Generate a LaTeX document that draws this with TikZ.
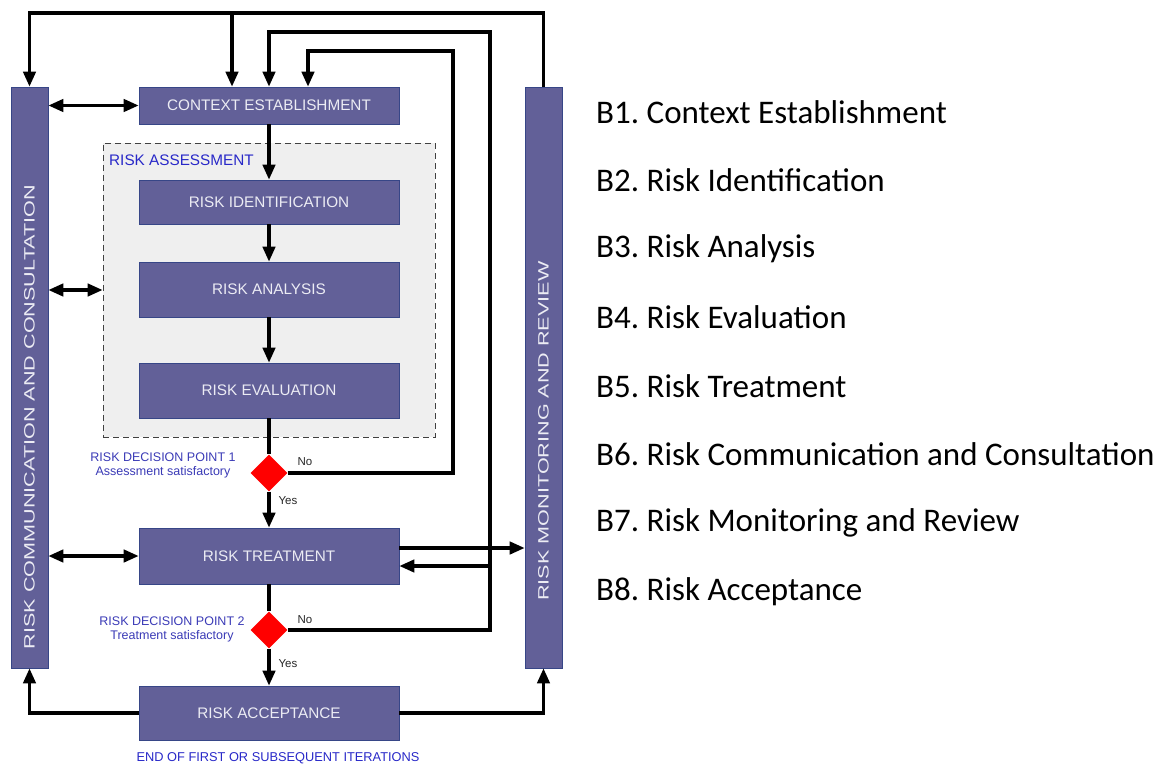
\documentclass[tikz,border=0pt]{standalone}
\usepackage{fontspec}
\setmainfont{Liberation Sans}
\newfontfamily\listfont{Carlito}
\usetikzlibrary{arrows.meta,shapes.geometric}

\definecolor{boxfill}{RGB}{98,96,152}
\definecolor{boxline}{RGB}{55,70,135}
\definecolor{boxtext}{RGB}{236,236,244}
\definecolor{areafill}{RGB}{239,239,239}
\definecolor{labelblue}{RGB}{58,58,182}
\definecolor{titleblue}{RGB}{40,40,200}

\tikzset{
  procbox/.style={draw=boxline, line width=0.8pt, fill=boxfill, text=boxtext,
    minimum width=260pt, inner sep=0pt, font=\fontsize{15.3}{18}\selectfont},
  sidebar/.style={draw=boxline, line width=0.8pt, fill=boxfill, text=boxtext,
    minimum width=37pt, minimum height=581pt, inner sep=0pt},
  bartext/.style={rotate=90, text=boxtext, inner sep=0pt, font=\fontsize{15}{18}\selectfont},
  decision/.style={diamond, fill=red, draw=none, minimum width=37pt,
    minimum height=37pt, inner sep=0pt},
  wire/.style={line width=3.1pt, draw=black},
  tip/.tip={Triangle[length=15pt,width=12.5pt]},
  flow/.style={wire, -tip},
  both/.style={wire, tip-tip},
  bluelabel/.style={text=labelblue, font=\fontsize{12.5}{15}\selectfont, inner sep=0pt, align=center},
  smalltag/.style={text=black!85, font=\fontsize{11.5}{14}\selectfont, inner sep=0pt},
  listitem/.style={anchor=west, inner sep=0pt, font=\listfont\fontsize{33}{38}\selectfont}
}

\begin{document}
\frenchspacing
\begin{tikzpicture}[x=1pt,y=-1pt]
\useasboundingbox (0,0) rectangle (1154,765);

% risk assessment area
\node[draw=black!75, dashed, dash pattern=on 6pt off 4pt, line width=0.9pt, fill=areafill,
  minimum width=332pt, minimum height=294pt, inner sep=0pt] (ra) at (269,290) {};
\node[anchor=west, inner sep=0pt, text=titleblue, font=\fontsize{15.3}{18}\selectfont] (ratitle) at (109,160) {RISK ASSESSMENT};

% side bars
\node[sidebar] (lbar) at (29.5,377.5) {};
\node[sidebar] (rbar) at (543.5,377.5) {};
\node[bartext] (ltext) at (29.5,417)
  {\scalebox{1.44}[1]{RISK COMMUNICATION AND CONSULTATION}};
\node[bartext] (rtext) at (543.5,431)
  {\scalebox{1.44}[1]{RISK MONITORING AND REVIEW}};

% process boxes
\node[procbox, minimum height=37pt] (ctx) at (269,105.5) {CONTEXT ESTABLISHMENT};
\node[procbox, minimum height=44pt] (ident) at (269,202) {RISK IDENTIFICATION};
\node[procbox, minimum height=55pt] (analysis) at (269,289.5) {RISK ANALYSIS};
\node[procbox, minimum height=55pt] (eval) at (269,390.5) {RISK EVALUATION};
\node[procbox, minimum height=56pt] (treat) at (269,556) {RISK TREATMENT};
\node[procbox, minimum height=54pt] (accept) at (269,713) {RISK ACCEPTANCE};

% decision points
\node[decision] (d1) at (269,473) {};
\node[decision] (d2) at (269,630) {};
\node[bluelabel] (d1lab) at (163,465) {RISK DECISION POINT 1\\[-1pt]Assessment satisfactory};
\node[bluelabel] (d2lab) at (172,629.5) {RISK DECISION POINT 2\\[-1pt]Treatment satisfactory};
\node[smalltag] (no1) at (305,462) {No};
\node[smalltag] (yes1) at (288,501) {Yes};
\node[smalltag] (no2) at (305,620) {No};
\node[smalltag] (yes2) at (288,664) {Yes};
\node[text=titleblue, inner sep=0pt, font=\fontsize{12.8}{15}\selectfont] (endlab) at (278,758)
  {END OF FIRST OR SUBSEQUENT ITERATIONS};

% main flow
\draw[flow] (ctx.south) -- (ident.north);
\draw[flow] (ident.south) -- (analysis.north);
\draw[flow] (analysis.south) -- (eval.north);
\draw[wire] (eval.south) -- (d1.north);
\draw[flow] (d1.south) -- (treat.north);
\draw[wire] (treat.south) -- (d2.north);
\draw[flow] (d2.south) -- (accept.north);

% monitoring feedback over the top
\coordinate (ytop) at (0,13);
\draw[flow] (rbar.north) -- (rbar.north |- ytop) -| (lbar.north);
\draw[flow] ([xshift=-37pt]ctx.north |- ytop) -- ([xshift=-37pt]ctx.north);

% "No" loops back to context establishment
\coordinate (loop1) at (453,51);
\coordinate (loop2) at (490,32);
\draw[flow] (d1.east) -| (loop1) -| ([xshift=39pt]ctx.north);
\draw[flow] (d2.east) -| (loop2) -| (ctx.north);
\draw[flow] ([yshift=-10pt]treat.east -| loop2) -- ([yshift=-10pt]treat.east);
\draw[flow] ([yshift=8pt]treat.east) -- ([yshift=8pt]treat.east -| rbar.west);

% communication links
\draw[both] (lbar.east |- ctx.west) -- (ctx.west);
\draw[both] (lbar.east |- ra.west) -- (ra.west);
\draw[both] (lbar.east |- treat.west) -- (treat.west);

% acceptance to both side processes
\draw[flow] (accept.west) -| (lbar.south);
\draw[flow] (accept.east) -| (rbar.south);

% legend
\node[listitem] (b1) at (596,112) {B1. Context Establishment};
\node[listitem] (b2) at (596,180.5) {B2. Risk Identification};
\node[listitem] (b3) at (596,249) {B3. Risk Analysis};
\node[listitem] (b4) at (596,317.5) {B4. Risk Evaluation};
\node[listitem] (b5) at (596,386) {B5. Risk Treatment};
\node[listitem] (b6) at (596,454.5) {B6. Risk Communication and Consultation};
\node[listitem] (b7) at (596,523) {B7. Risk Monitoring and Review};
\node[listitem] (b8) at (596,591.5) {B8. Risk Acceptance};
\end{tikzpicture}
\end{document}
